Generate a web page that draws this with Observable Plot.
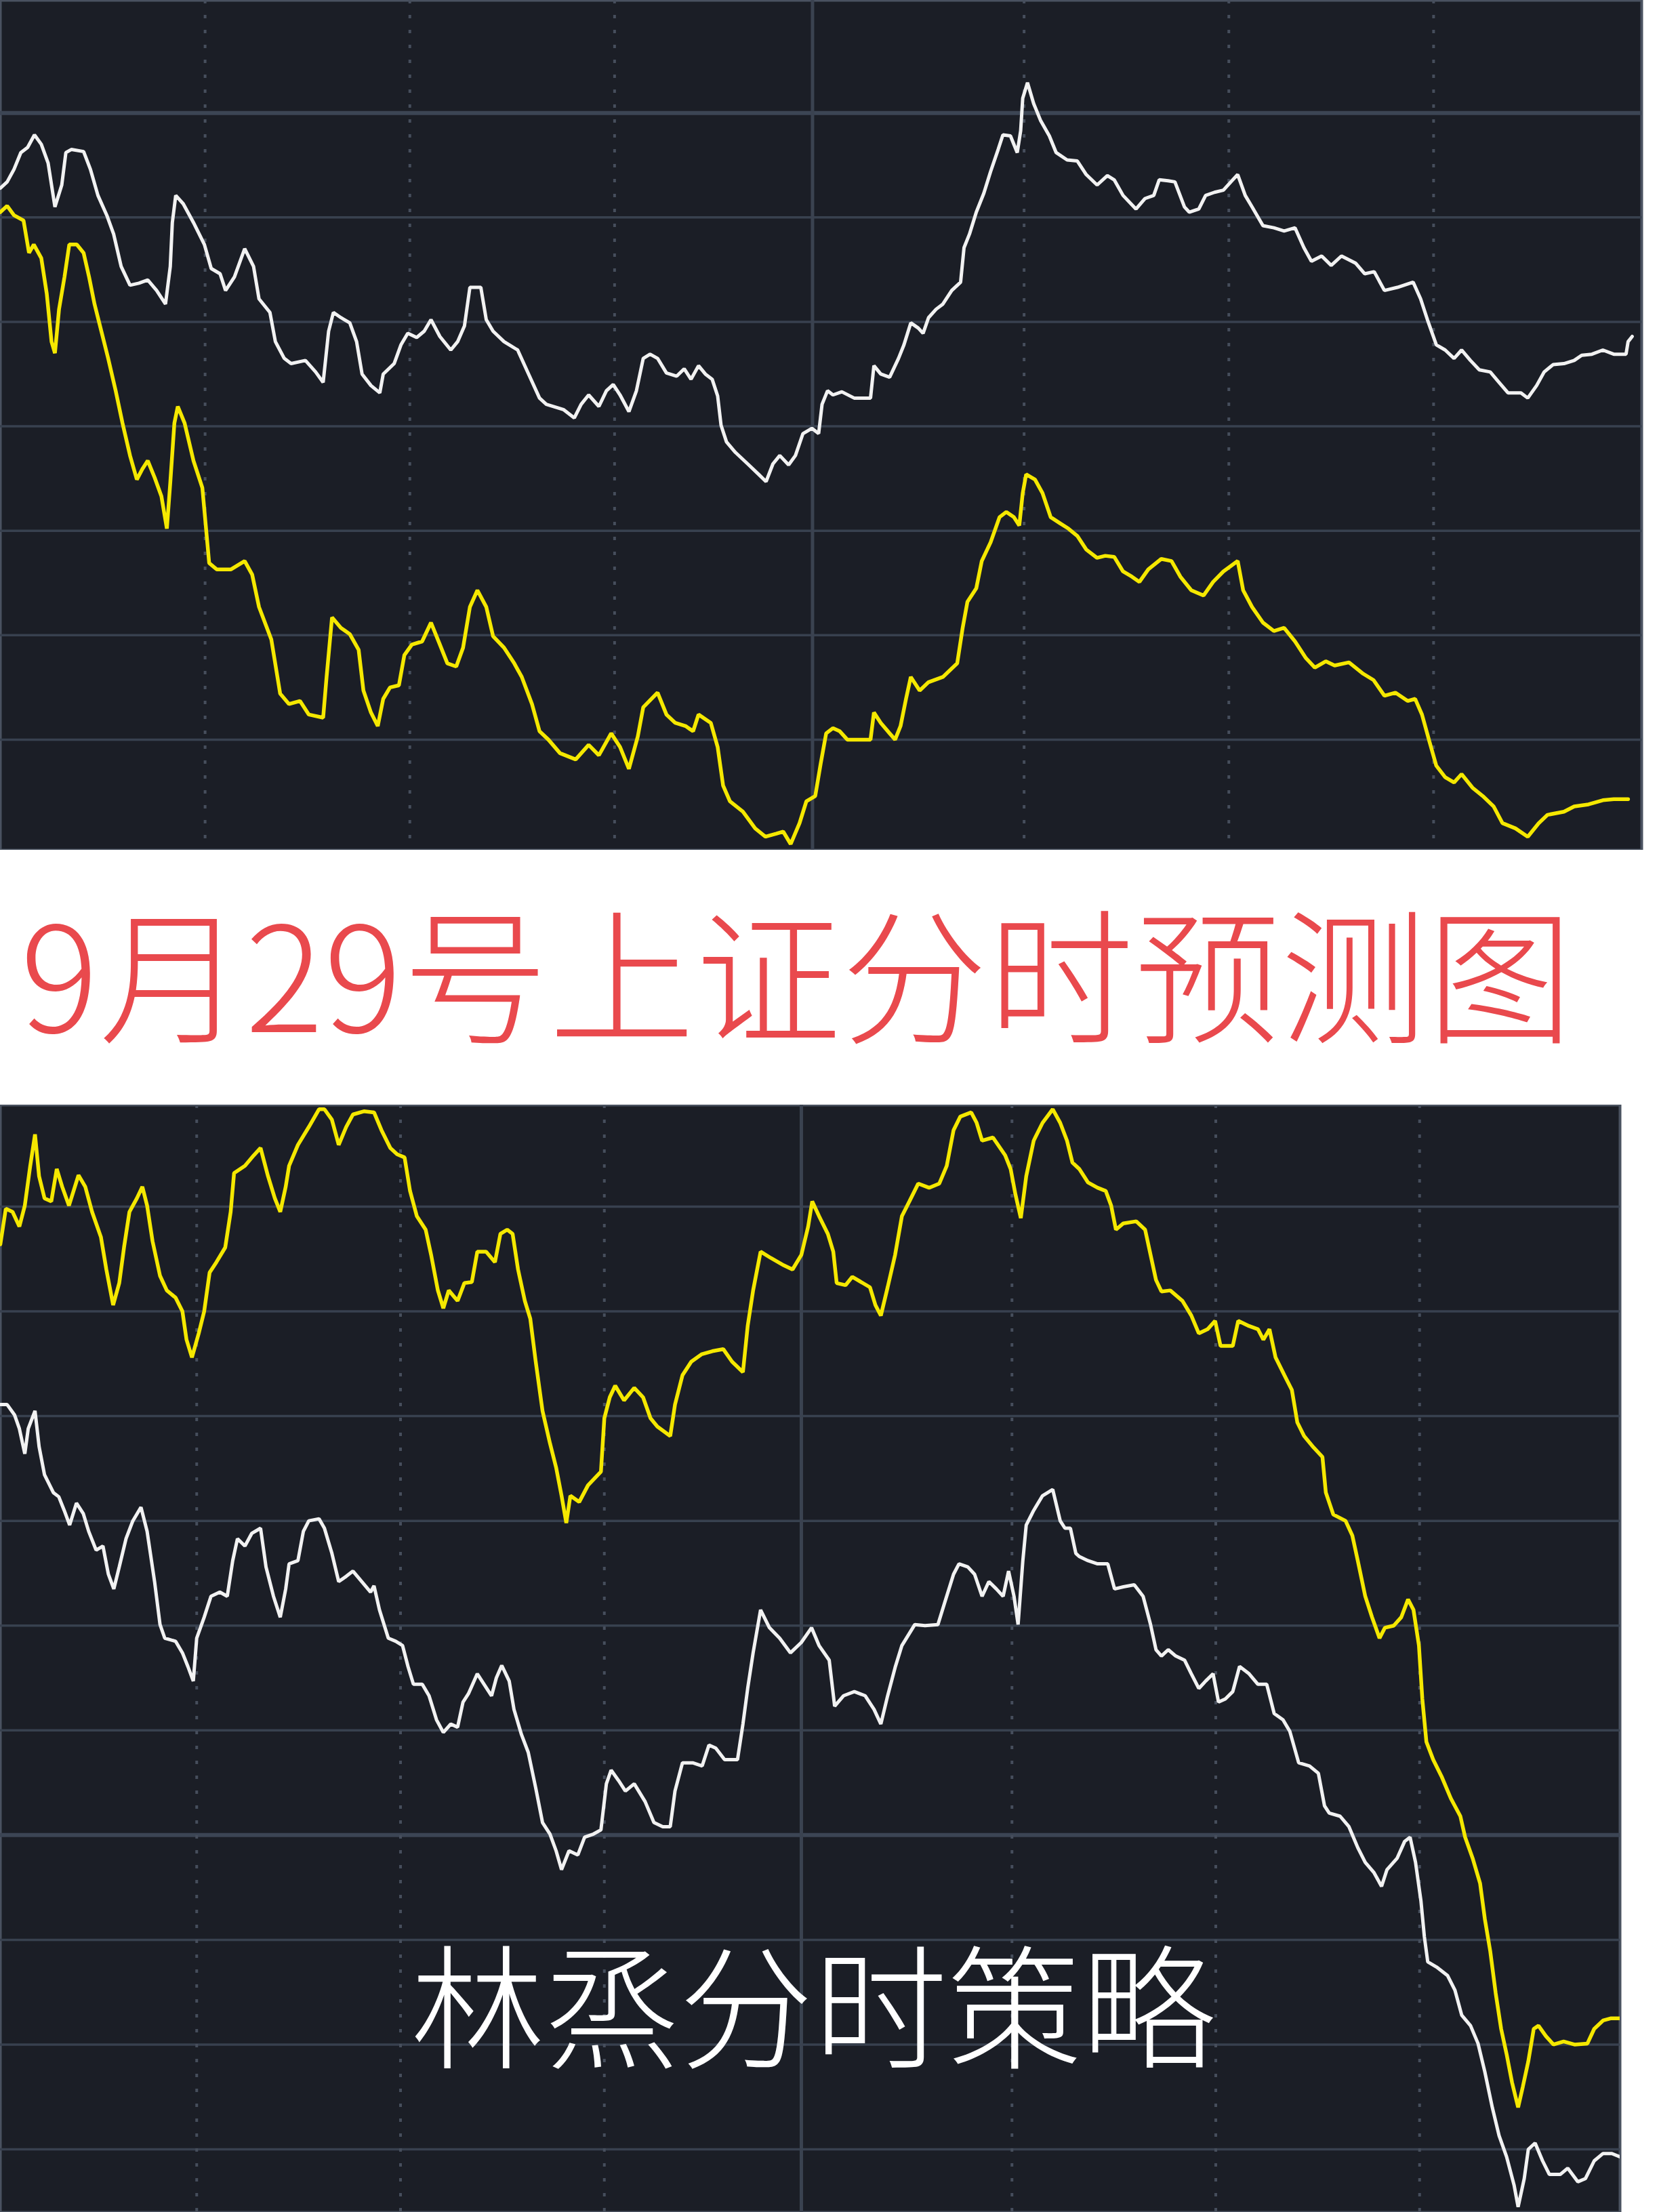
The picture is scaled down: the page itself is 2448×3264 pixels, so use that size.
<!DOCTYPE html>
<html><head><meta charset="utf-8">
<script src="https://cdn.jsdelivr.net/npm/d3@7"></script>
<script src="https://cdn.jsdelivr.net/npm/@observablehq/plot@0.6"></script>
<style>
html,body{margin:0;padding:0;background:#fff;}
#page{position:relative;width:2448px;height:3264px;overflow:hidden;background:#fff;}
#top{position:absolute;left:0;top:0;}
#bottom{position:absolute;left:0;top:1630px;}
#title{position:absolute;left:30px;top:1322px;font-family:"Noto Sans CJK SC","Noto Sans",sans-serif;font-weight:300;font-size:215px;letter-spacing:1px;color:#e9494d;line-height:1;white-space:nowrap;}
#sign{position:absolute;left:606px;top:2852px;font-family:"Noto Sans CJK SC","Noto Sans",sans-serif;font-weight:300;font-size:198px;color:#ffffff;line-height:1;white-space:nowrap;}
</style>
</head><body>
<div id="page">
  <div id="top"></div>
  <div id="title">9月29号上证分时预测图</div>
  <div id="bottom"></div>
  <div id="sign">林烝分时策略</div>
</div>
<script>
// ---- texts ----
const titleText = "9月29号上证分时预测图";
const signText = "林烝分时策略";

// ---- grid definitions (minutes of the trading day / price levels) ----
const topLevels = [1, 2, 3, 4, 5, 6, 7];
const topBaseLevel = [7];
const bottomLevels = [0, 1, 2, 3, 4, 5, 6, 7, 8, 9];
const bottomBaseLevel = [3];
const dottedMinutes = [30, 60, 90, 150, 180, 210];
const middayMinute = [119];

// ---- top panel series: [minute, level] ----
const topWhite = [[0,6.28],[1,6.34],[2,6.46],[3,6.62],[4,6.67],[5,6.79],[6,6.70],[7,6.52],[8,6.10],[9,6.31],[9.6,6.62],[10.4,6.65],[12.2,6.63],[13.2,6.46],[14.3,6.21],[15.6,6.02],[16.6,5.84],[17.7,5.53],[19,5.35],[20.3,5.37],[21.6,5.40],[22.9,5.30],[24.2,5.17],[24.9,5.53],[25.2,5.95],[25.7,6.21],[26.8,6.13],[28.3,5.95],[29.9,5.74],[30.9,5.51],[32.2,5.46],[33,5.30],[34.3,5.43],[35.8,5.70],[37.1,5.53],[37.9,5.22],[39.5,5.09],[40.3,4.81],[41.6,4.65],[42.6,4.60],[44.7,4.63],[46.2,4.52],[47.3,4.42],[48.1,4.91],[48.8,5.09],[49.9,5.04],[51.2,4.99],[52.2,4.81],[53,4.50],[54.3,4.39],[55.6,4.32],[56.1,4.50],[57.7,4.60],[58.7,4.78],[59.7,4.89],[61,4.85],[62.1,4.91],[63.1,5.02],[64.4,4.86],[66,4.73],[67,4.81],[68,4.96],[68.8,5.33],[70.4,5.33],[71.2,5.02],[72.2,4.91],[73.8,4.81],[75.8,4.73],[77.4,4.50],[79,4.27],[80,4.21],[82.5,4.16],[84.1,4.08],[85.1,4.21],[86.2,4.30],[87.7,4.19],[88.8,4.34],[89.8,4.40],[90.8,4.30],[92.1,4.14],[93.2,4.34],[94.2,4.65],[95.2,4.69],[96.3,4.65],[97.6,4.51],[99.1,4.48],[100.2,4.55],[101.2,4.45],[102.3,4.58],[103.3,4.50],[104.3,4.45],[105.1,4.29],[105.6,4.01],[106.4,3.85],[107.7,3.75],[109.5,3.64],[111.1,3.54],[112.2,3.47],[113.2,3.64],[114.2,3.72],[115.5,3.63],[116.5,3.72],[117.6,3.93],[118.9,3.98],[119.9,3.93],[120.4,4.21],[121.2,4.34],[122,4.30],[123.3,4.33],[125.1,4.27],[127.5,4.27],[128,4.58],[129,4.50],[130.3,4.47],[131.6,4.65],[132.4,4.78],[133.4,4.99],[134.5,4.94],[135.2,4.89],[136,5.04],[137.1,5.12],[138.1,5.17],[139.4,5.30],[140.7,5.38],[141.2,5.71],[142,5.84],[143,6.05],[144.1,6.23],[145.1,6.44],[146.2,6.65],[146.9,6.79],[148,6.78],[149,6.62],[149.5,6.83],[149.8,7.14],[150.5,7.29],[151.4,7.09],[152.4,6.93],[153.7,6.78],[154.7,6.62],[156.3,6.55],[157.8,6.54],[159.1,6.41],[160.7,6.31],[162.2,6.40],[163.2,6.36],[164.5,6.21],[166.4,6.08],[167.7,6.18],[169,6.21],[169.8,6.36],[171.1,6.35],[172.1,6.34],[173.5,6.10],[174.2,6.05],[175.6,6.08],[176.6,6.21],[177.9,6.24],[179.2,6.26],[180.3,6.34],[181.3,6.41],[182.4,6.21],[183.4,6.10],[185,5.92],[186.6,5.90],[188.1,5.87],[189.7,5.90],[191,5.71],[192.1,5.58],[193.6,5.63],[195,5.54],[196.5,5.63],[198.6,5.56],[199.9,5.46],[201.3,5.48],[202.8,5.30],[204.7,5.33],[207,5.38],[208.1,5.22],[209.1,5.02],[210.4,4.78],[211.7,4.73],[213,4.65],[214.1,4.73],[215.4,4.63],[216.7,4.54],[218.3,4.52],[219.6,4.42],[220.9,4.32],[222.8,4.32],[223.8,4.27],[225.1,4.39],[226.2,4.52],[227.5,4.59],[229.1,4.60],[230.6,4.63],[231.7,4.68],[233.2,4.69],[234.8,4.73],[236.4,4.69],[238.2,4.69],[238.5,4.81],[239.1,4.86]];

const topYellow = [[0,6.05],[1,6.11],[2,6.02],[3.4,5.97],[4.2,5.66],[4.9,5.74],[6,5.61],[6.8,5.27],[7.5,4.81],[8,4.70],[8.6,5.12],[9.4,5.43],[10.1,5.74],[11.2,5.74],[12.2,5.66],[13,5.43],[13.8,5.17],[14.8,4.91],[15.8,4.65],[16.9,4.34],[17.9,4.03],[19,3.72],[20,3.49],[20.8,3.59],[21.6,3.67],[22.6,3.51],[23.6,3.33],[24.4,3.02],[24.9,3.46],[25.5,4.03],[26,4.19],[27,4.03],[28.3,3.67],[29.6,3.41],[30.1,3.05],[30.6,2.69],[31.7,2.63],[33.8,2.63],[35.8,2.71],[36.9,2.58],[37.9,2.27],[39.7,1.96],[41,1.44],[42.3,1.34],[43.9,1.37],[45.2,1.24],[47.3,1.21],[47.8,1.60],[48.6,2.17],[49.9,2.07],[51.2,2.01],[52.5,1.86],[53.2,1.47],[54.3,1.26],[55.3,1.13],[56.1,1.39],[57.1,1.50],[58.4,1.52],[59.2,1.81],[60.3,1.91],[61.8,1.94],[63.1,2.12],[64.4,1.91],[65.5,1.73],[66.8,1.70],[67.8,1.88],[68.8,2.27],[69.9,2.43],[71.2,2.27],[72.2,1.99],[73.8,1.88],[75.3,1.73],[76.4,1.60],[77.9,1.34],[79,1.08],[80.3,1.00],[82,0.87],[84.3,0.81],[86.2,0.95],[87.7,0.85],[89.5,1.06],[90.8,0.93],[92.1,0.72],[93.4,1.03],[94.2,1.31],[96.3,1.45],[97.6,1.24],[98.9,1.16],[100.4,1.13],[101.5,1.08],[102.3,1.24],[104.1,1.16],[105.1,0.93],[105.9,0.56],[106.9,0.41],[108.8,0.31],[110.6,0.15],[112.1,0.07],[113.7,0.10],[114.7,0.12],[115.8,0.00],[117.1,0.20],[118.1,0.41],[119.4,0.46],[120.2,0.77],[121,1.06],[122,1.11],[123,1.08],[124.1,1.00],[127.5,1.00],[128,1.26],[129,1.16],[130.3,1.06],[131.1,1.00],[131.9,1.13],[132.7,1.39],[133.4,1.60],[134.7,1.47],[136,1.55],[138.1,1.60],[140.2,1.73],[141,2.07],[141.7,2.32],[143,2.45],[143.8,2.71],[145.1,2.89],[146.4,3.13],[147.4,3.18],[148.5,3.13],[149.3,3.05],[149.8,3.36],[150.3,3.54],[151.6,3.49],[152.7,3.36],[153.9,3.13],[155.3,3.07],[156.5,3.02],[157.8,2.95],[159.1,2.82],[160.7,2.74],[161.9,2.76],[163.2,2.75],[164.5,2.61],[165.8,2.56],[166.9,2.51],[168.2,2.63],[170.1,2.73],[171.6,2.71],[172.9,2.56],[174.5,2.43],[176.3,2.38],[177.7,2.51],[179.2,2.61],[181.3,2.71],[182.1,2.43],[183.4,2.27],[185,2.12],[186.6,2.04],[188.1,2.07],[189.7,1.94],[191.3,1.78],[192.6,1.69],[194.2,1.75],[195.5,1.71],[197.6,1.74],[199.7,1.63],[201.2,1.57],[202.8,1.42],[204.4,1.45],[206.2,1.37],[207.3,1.39],[208.3,1.24],[209.4,0.98],[210.4,0.75],[211.7,0.64],[213,0.59],[214.1,0.67],[215.7,0.54],[217.2,0.46],[218.8,0.36],[220.1,0.20],[222,0.15],[223.8,0.07],[225.4,0.20],[226.7,0.28],[229.1,0.31],[230.6,0.36],[232.7,0.38],[234.8,0.42],[236.4,0.43],[238.5,0.43]];

// ---- bottom panel series: [minute, level] ----
const bottomYellow = [[1.1,8.64],[1.9,8.98],[2.9,8.95],[3.9,8.81],[4.7,9.01],[5.5,9.39],[6.2,9.69],[6.8,9.29],[7.6,9.08],[8.6,9.05],[9.4,9.36],[10.2,9.19],[11.2,9.01],[12.6,9.30],[13.6,9.19],[14.6,8.95],[15.9,8.71],[16.7,8.40],[17.7,8.06],[18.6,8.27],[19.3,8.61],[20.1,8.95],[21.2,9.08],[22,9.19],[22.7,9.01],[23.5,8.67],[24.6,8.34],[25.6,8.20],[26.9,8.13],[27.9,8.00],[28.5,7.73],[29.3,7.56],[30.3,7.79],[31.1,8.00],[31.9,8.37],[32.9,8.47],[34.2,8.61],[35,8.95],[35.5,9.32],[37.1,9.39],[38.4,9.49],[39.4,9.56],[40.5,9.29],[41.5,9.08],[42.3,8.95],[43.1,9.19],[43.6,9.39],[44.9,9.59],[46.5,9.76],[48,9.93],[48.8,9.93],[49.9,9.83],[50.9,9.59],[52,9.76],[53,9.88],[54.6,9.91],[56.1,9.90],[57.2,9.73],[58.5,9.56],[59.5,9.50],[60.6,9.47],[61.4,9.15],[62.4,8.91],[63.7,8.78],[64.5,8.54],[65.5,8.20],[66.3,8.03],[67.1,8.20],[68.4,8.10],[69.4,8.27],[70.5,8.28],[71.3,8.57],[72.6,8.57],[73.9,8.47],[74.7,8.74],[75.7,8.78],[76.5,8.74],[77.3,8.40],[78.3,8.10],[79.1,7.93],[79.9,7.52],[80.9,7.05],[82,6.74],[82.9,6.51],[83.7,6.24],[84.4,5.98],[85,6.24],[86.3,6.18],[87.6,6.34],[89.5,6.47],[90,6.98],[90.8,7.18],[91.6,7.29],[92.9,7.15],[94.4,7.27],[95.7,7.18],[96.8,6.98],[97.8,6.90],[99.7,6.81],[100.4,7.11],[101.5,7.39],[102.8,7.52],[104.3,7.59],[105.9,7.62],[107.5,7.64],[108.8,7.52],[110.4,7.42],[111.1,7.86],[111.9,8.20],[113,8.57],[114.5,8.51],[116.4,8.44],[117.7,8.40],[119,8.54],[120,8.81],[120.6,9.05],[121.6,8.91],[122.9,8.74],[123.7,8.57],[124.2,8.27],[125.5,8.25],[126.5,8.33],[127.8,8.28],[129.1,8.23],[129.9,8.06],[130.7,7.96],[131.7,8.23],[132.8,8.54],[133.8,8.91],[134.9,9.05],[136.2,9.22],[137.8,9.18],[139.3,9.22],[140.4,9.39],[141.4,9.73],[142.4,9.86],[144,9.90],[144.8,9.80],[145.6,9.63],[147.2,9.66],[149,9.49],[149.8,9.36],[150.5,9.12],[151.3,8.89],[152.1,9.29],[153.2,9.63],[154.5,9.80],[156,9.93],[157.1,9.80],[158.1,9.63],[158.9,9.42],[159.9,9.36],[161.2,9.23],[162.6,9.18],[163.8,9.15],[164.6,9.01],[165.3,8.78],[166.4,8.84],[168.3,8.86],[169.6,8.78],[170.4,8.54],[171.2,8.30],[172,8.19],[173.3,8.20],[175.1,8.10],[176.4,7.96],[177.5,7.79],[178.8,7.83],[179.9,7.91],[180.7,7.67],[182.5,7.67],[183.3,7.91],[184.9,7.86],[186.2,7.83],[187,7.73],[187.9,7.83],[188.8,7.56],[190.1,7.39],[191.2,7.25],[192,6.94],[193,6.81],[194.4,6.70],[195.7,6.61],[196.2,6.27],[197.3,6.06],[199.1,6.00],[200.1,5.86],[200.9,5.62],[202,5.28],[203,5.08],[204.1,4.88],[204.9,4.98],[206.2,5.00],[207.3,5.08],[208.3,5.25],[209.1,5.15],[209.9,4.81],[210.4,4.30],[211,3.89],[212,3.72],[213.3,3.55],[214.6,3.35],[216,3.18],[216.7,2.98],[217.8,2.78],[218.9,2.54],[219.6,2.20],[220.4,1.89],[221.2,1.49],[222,1.15],[222.8,0.91],[223.6,0.64],[224.5,0.40],[225.2,0.60],[226,0.84],[226.8,1.15],[227.5,1.18],[228.6,1.08],[229.7,1.00],[231.2,1.03],[232.8,1.00],[234.7,1.01],[235.7,1.15],[237,1.23],[238.1,1.25],[239.4,1.25]];

const bottomWhite = [[1.1,7.11],[2.1,7.11],[3.2,7.01],[3.9,6.88],[4.7,6.64],[5.2,6.88],[6.2,7.05],[6.8,6.71],[7.6,6.44],[8.9,6.27],[9.7,6.23],[10.5,6.10],[11.3,5.96],[12.3,6.17],[13.3,6.07],[14.1,5.90],[15.2,5.72],[16.2,5.76],[17,5.49],[17.8,5.35],[18.6,5.56],[19.6,5.83],[20.6,6.00],[21.8,6.13],[22.7,5.90],[23.8,5.42],[24.6,5.01],[25.3,4.88],[26.9,4.85],[27.9,4.74],[28.7,4.61],[29.5,4.47],[30,4.88],[31.1,5.08],[32.1,5.28],[33.4,5.32],[34.5,5.28],[35.3,5.62],[36,5.83],[37.1,5.76],[38.1,5.88],[39.4,5.93],[40.2,5.56],[41.3,5.28],[42.3,5.08],[43.1,5.35],[43.6,5.59],[44.9,5.62],[45.7,5.90],[46.5,6.00],[48,6.02],[48.8,5.93],[49.9,5.69],[50.9,5.42],[52,5.47],[53,5.52],[54.3,5.42],[55.6,5.32],[56.1,5.38],[56.9,5.15],[58.2,4.88],[59.3,4.85],[60.3,4.81],[61.1,4.61],[61.9,4.44],[63.2,4.44],[64.2,4.33],[65.3,4.10],[66.3,3.98],[67.4,4.06],[68.4,4.03],[69.2,4.27],[70,4.35],[71.3,4.54],[72.3,4.44],[73.4,4.33],[74.1,4.50],[74.9,4.62],[76,4.47],[76.7,4.20],[77.8,3.96],[78.8,3.79],[79.9,3.45],[80.9,3.12],[82,3.01],[82.9,2.85],[83.7,2.67],[84.8,2.85],[86.1,2.81],[87.1,2.98],[88.4,3.01],[89.5,3.05],[90.3,3.49],[91,3.62],[92.1,3.52],[93.1,3.42],[94.4,3.49],[96,3.32],[97.3,3.12],[98.6,3.08],[99.7,3.08],[100.4,3.42],[101.5,3.69],[103,3.69],[104.4,3.66],[105.4,3.86],[106.4,3.83],[107.7,3.72],[109.6,3.72],[110.4,4.06],[111.1,4.40],[111.9,4.74],[113,5.15],[114.3,4.98],[115.8,4.88],[117.4,4.74],[119,4.84],[120.5,4.98],[121.6,4.81],[123.1,4.67],[123.9,4.23],[125.2,4.33],[126.8,4.37],[128.4,4.33],[129.7,4.20],[130.7,4.06],[131.7,4.33],[132.8,4.60],[133.8,4.81],[135.7,5.01],[137.2,5.00],[139.1,5.01],[140.1,5.22],[141.4,5.49],[142.2,5.59],[143.5,5.56],[144.5,5.49],[145.6,5.28],[146.6,5.42],[147.7,5.35],[148.7,5.28],[149.5,5.52],[150.3,5.28],[150.9,5.01],[151.6,5.62],[152.1,5.96],[153.2,6.10],[154.5,6.24],[156,6.30],[157.1,6.00],[157.8,5.93],[158.6,5.93],[159.4,5.69],[159.9,5.66],[161.2,5.62],[162.6,5.59],[164.1,5.59],[165.1,5.35],[166.4,5.37],[168,5.39],[169.3,5.28],[170.4,5.01],[171.2,4.77],[172,4.71],[173,4.77],[174.1,4.71],[175.4,4.67],[176.4,4.54],[177.5,4.40],[178.5,4.47],[179.6,4.54],[180.4,4.27],[181.4,4.30],[182.5,4.37],[183.5,4.61],[184.9,4.54],[186.2,4.44],[187.5,4.44],[188.6,4.16],[189.9,4.10],[190.9,3.99],[192.2,3.69],[193.8,3.66],[195.1,3.59],[196,3.28],[196.7,3.21],[198.3,3.18],[199.6,3.08],[200.9,2.88],[202,2.74],[203.3,2.64],[204.4,2.51],[205.2,2.67],[206.7,2.78],[207.8,2.94],[208.6,2.98],[209.4,2.74],[210.2,2.37],[210.7,2.03],[211.2,1.79],[212.5,1.74],[214.1,1.66],[215.2,1.52],[216.2,1.28],[217.5,1.18],[218.6,1.01],[219.6,0.74],[220.7,0.40],[221.7,0.13],[222.8,-0.07],[223.9,-0.34],[224.5,-0.55],[225.4,-0.28],[226,0.00],[227,0.06],[228.1,-0.11],[229.1,-0.24],[230.7,-0.24],[231.8,-0.18],[233.3,-0.31],[234.4,-0.28],[235.7,-0.11],[237,-0.04],[238.3,-0.04],[239.4,-0.07]];

// ---- styling ----
const BG = "#1b1e26";
const GRID = "#38414f";
const DOT = "#464e5c";
const WHITE = "#f2f2f2";
const YELLOW = "#f5e800";

function panel({height, marginRight, xRange, yDomain, yRange, levels, base, white, yellow}) {
  return Plot.plot({
    width: 2448,
    height,
    marginLeft: 0, marginTop: 0, marginBottom: 0, marginRight,
    x: {domain: [0, 240], range: xRange, axis: null},
    y: {domain: yDomain, range: yRange, axis: null},
    style: {background: "transparent", overflow: "hidden"},
    marks: [
      Plot.frame({fill: BG, stroke: "#4a5260", strokeWidth: 4}),
      Plot.ruleY(levels, {stroke: GRID, strokeWidth: 3.5}),
      Plot.ruleY(base, {stroke: "#3c4554", strokeWidth: 6}),
      Plot.ruleX(dottedMinutes, {stroke: DOT, strokeWidth: 4, strokeDasharray: "5,17"}),
      Plot.ruleX(middayMinute, {stroke: "#3a4250", strokeWidth: 5}),
      Plot.line(yellow, {x: d => d[0], y: d => d[1], stroke: YELLOW, strokeWidth: 5.5, clip: true, strokeLinejoin: "miter"}),
      Plot.line(white, {x: d => d[0], y: d => d[1], stroke: WHITE, strokeWidth: 5, clip: true, strokeLinejoin: "miter"})
    ]
  });
}

document.getElementById("top").appendChild(panel({
  height: 1254, marginRight: 26, xRange: [0, 2417],
  yDomain: [0, 8], yRange: [1245, 12],
  levels: topLevels, base: topBaseLevel, white: topWhite, yellow: topYellow
}));

document.getElementById("bottom").appendChild(panel({
  height: 1634, marginRight: 58, xRange: [-11, 2395],
  yDomain: [0, 9], yRange: [1541, 150],
  levels: bottomLevels, base: bottomBaseLevel, white: bottomWhite, yellow: bottomYellow
}));

document.getElementById("title").textContent = titleText;
document.getElementById("sign").textContent = signText;
</script>
</body></html>
